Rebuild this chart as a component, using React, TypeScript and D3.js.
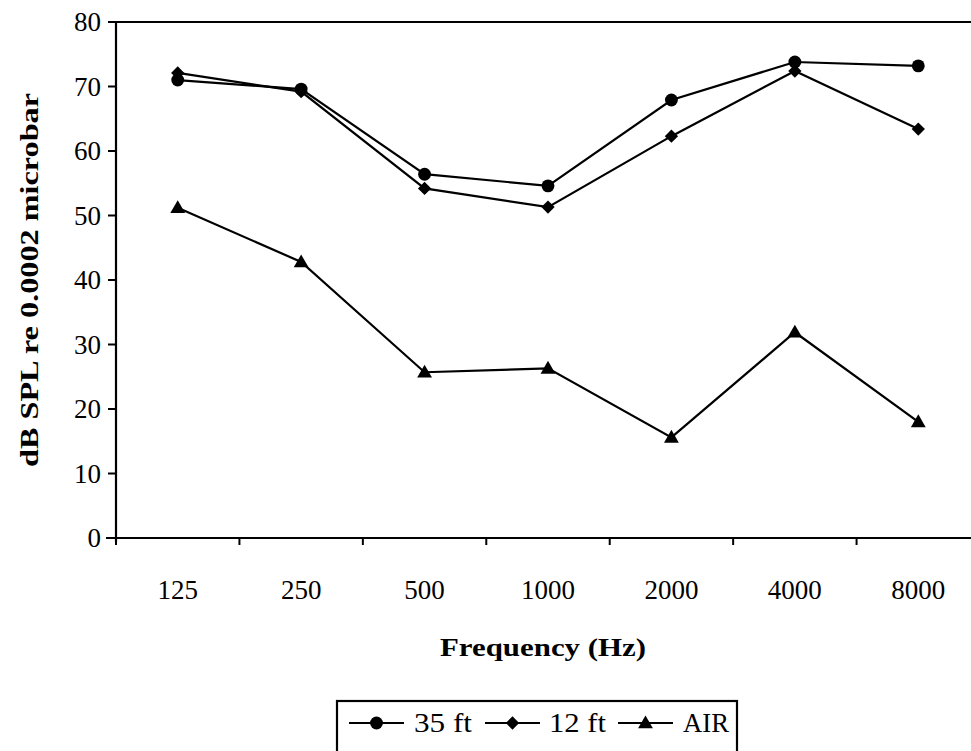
import React from "react";
import * as d3 from "d3";

const categories = ["125", "250", "500", "1000", "2000", "4000", "8000"];
const yTicks = [0, 10, 20, 30, 40, 50, 60, 70, 80];
const s35 = [71.0, 69.6, 56.4, 54.6, 67.9, 73.8, 73.2];
const s12 = [72.1, 69.2, 54.2, 51.3, 62.3, 72.4, 63.4];
const sAir = [51.2, 42.8, 25.7, 26.3, 15.6, 31.9, 18.0];
const seriesNames = ["35 ft", "12 ft", "AIR"];

const W = 971;
const H = 751;
const left = 116;
const right = 980;
const top = 22;
const bottom = 538;
const FONT = "'Liberation Serif', 'Times New Roman', serif";

const circlePath = d3.symbol(d3.symbolCircle, 130)()!;
const diamondPath = d3.symbol(d3.symbolSquare, 88)()!;
const trianglePath = d3.symbol(d3.symbolTriangle, 95)()!;

function Marker({ kind, x, y }: { kind: number; x: number; y: number }) {
  if (kind === 0) return <path d={circlePath} transform={`translate(${x},${y})`} fill="#000" />;
  if (kind === 1) return <path d={diamondPath} transform={`translate(${x},${y}) rotate(45)`} fill="#000" />;
  return <path d={trianglePath} transform={`translate(${x},${y + 1})`} fill="#000" />;
}

export default function App() {
  const x = d3.scaleBand<string>().domain(categories).range([left, right]);
  const y = d3.scaleLinear().domain([0, 80]).range([bottom, top]);
  const cx = (c: string) => (x(c) as number) + x.bandwidth() / 2;
  const line = d3
    .line<number>()
    .x((_, i) => cx(categories[i]))
    .y((d) => y(d));
  const series = [s35, s12, sAir];
  const xBoundaries = categories.map((c) => x(c) as number).concat([right]);

  const legendY = 723;
  const legendItems = [
    { lx: 349, tx: 414, tl: 58 },
    { lx: 485, tx: 549, tl: 57 },
    { lx: 618, tx: 683, tl: 46 },
  ];

  return (
    <svg width={W} height={H} style={{ position: "absolute", left: 0, top: 0, background: "#fff" }}>
      <rect x={0} y={0} width={W} height={H} fill="#fff" />
      {/* axes */}
      <line x1={left} x2={left} y1={top} y2={bottom + 4} stroke="#000" strokeWidth={2.2} />
      <line x1={left - 10} x2={W} y1={bottom} y2={bottom} stroke="#000" strokeWidth={2.2} />
      <line x1={left - 8} x2={W} y1={top} y2={top} stroke="#000" strokeWidth={2.2} />
      {yTicks.map((t) => (
        <g key={t}>
          <line x1={left - 8} x2={left} y1={y(t)} y2={y(t)} stroke="#000" strokeWidth={2} />
          <text
            x={left - 15}
            y={y(t) + 9}
            textAnchor="end"
            fontFamily={FONT}
            fontSize={27}
            fill="#000"
          >
            {t}
          </text>
        </g>
      ))}
      {xBoundaries.map((b, i) => (
        <line key={i} x1={b} x2={b} y1={bottom} y2={bottom + 7} stroke="#000" strokeWidth={2} />
      ))}
      {categories.map((c) => (
        <text key={c} x={cx(c)} y={599} textAnchor="middle" fontFamily={FONT} fontSize={27} fill="#000">
          {c}
        </text>
      ))}
      <text
        x={543}
        y={656}
        textAnchor="middle"
        fontFamily={FONT}
        fontSize={26}
        fontWeight="bold"
        textLength={206}
        lengthAdjust="spacingAndGlyphs"
        fill="#000"
      >
        Frequency (Hz)
      </text>
      <text
        transform={`translate(38,280) rotate(-90)`}
        textAnchor="middle"
        fontFamily={FONT}
        fontSize={26}
        fontWeight="bold"
        textLength={374}
        lengthAdjust="spacingAndGlyphs"
        fill="#000"
      >
        dB SPL re 0.0002 microbar
      </text>
      {/* series */}
      {series.map((s, k) => (
        <g key={k}>
          <path d={line(s) || ""} fill="none" stroke="#000" strokeWidth={2.2} />
          {s.map((v, i) => (
            <Marker key={i} kind={k} x={cx(categories[i])} y={y(v)} />
          ))}
        </g>
      ))}
      {/* legend */}
      <rect x={337} y={701} width={400} height={60} fill="none" stroke="#000" strokeWidth={2.2} />
      {legendItems.map((it, k) => (
        <g key={k}>
          <line x1={it.lx} x2={it.lx + 55} y1={legendY} y2={legendY} stroke="#000" strokeWidth={2.2} />
          <Marker kind={k} x={it.lx + 27.5} y={legendY} />
          <text
            x={it.tx}
            y={legendY + 9}
            fontFamily={FONT}
            fontSize={27}
            textLength={it.tl}
            lengthAdjust="spacingAndGlyphs"
            fill="#000"
          >
            {seriesNames[k]}
          </text>
        </g>
      ))}
    </svg>
  );
}
